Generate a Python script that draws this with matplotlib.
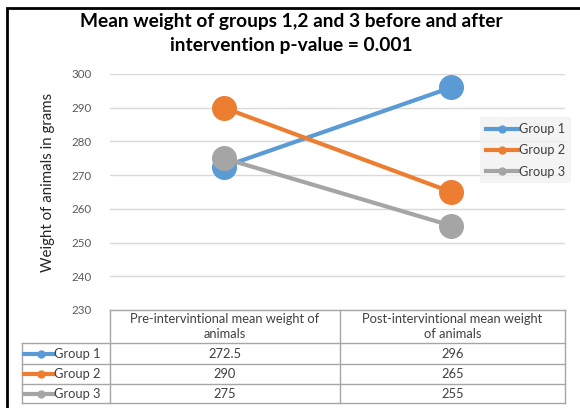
import matplotlib.pyplot as plt
from matplotlib.lines import Line2D

plt.rcParams['font.family'] = ['Lato', 'DejaVu Sans']

stages = ['Pre-intervintional mean weight of\nanimals',
          'Post-intervintional mean weight\nof animals']
groups = ['Group 1', 'Group 2', 'Group 3']
weights = [[272.5, 296], [290, 265], [275, 255]]
colors = ['#5b9bd5', '#ed7d31', '#a5a5a5']
yticks = [230, 240, 250, 260, 270, 280, 290, 300]

W, H = 580, 408
fig = plt.figure(figsize=(W / 100, H / 100), dpi=100)

def fx(px):
    return px / W

def fy(py):
    return 1 - py / H

# overlay axes in pixel units for frame, title and table
pix = fig.add_axes([0, 0, 1, 1])
pix.set_axis_off()
pix.set_xlim(0, W)
pix.set_ylim(H, 0)

# outer frame lines (left and top only)
pix.plot([7, 7, W], [H, 8, 8], color='black', lw=2, solid_joinstyle='miter')

pix.text(291, 21, 'Mean weight of groups 1,2 and 3 before and after',
         ha='center', va='center', fontsize=13.8, fontweight='bold')
pix.text(291, 46, 'intervention p-value = 0.001',
         ha='center', va='center', fontsize=13.8, fontweight='bold')

ax = fig.add_axes([fx(110), fy(310), fx(565) - fx(110), fy(74) - fy(310)])
xs = [0, 1]
for vals, c, name in zip(weights, colors, groups):
    ax.plot(xs, vals, color=c, lw=3, marker='o', markersize=17, clip_on=False,
            label=name, zorder=3)
ax.set_xlim(-0.5, 1.5)
ax.set_ylim(min(yticks), max(yticks))
ax.set_yticks(yticks)
ax.set_xticks([])
ax.grid(axis='y', color='#d9d9d9', lw=1)
ax.set_axisbelow(True)
ax.patch.set_alpha(0)
for s in ax.spines.values():
    s.set_visible(False)
ax.tick_params(axis='y', length=0, pad=13, labelsize=8.3, labelcolor='#595959')
pix.text(48, 182, 'Weight of animals in grams', rotation=90,
         ha='center', va='center', fontsize=10.8, color='#262626')

handles = [Line2D([], [], color=c, lw=3, marker='o', markersize=5) for c in colors]
leg = fig.legend(handles, groups, loc='upper left',
                 bbox_to_anchor=(fx(474), fy(111)), frameon=True, fontsize=9.2,
                 handlelength=2.5, handletextpad=0.1, labelspacing=0.72,
                 borderpad=0.45, fancybox=False)
leg.get_frame().set_facecolor('#f2f2f2')
leg.get_frame().set_edgecolor('none')
for t in leg.get_texts():
    t.set_color('#404040')

# data table under the chart
col_x = [22, 110, 340, 565]
row_y = [310, 343, 364, 384, 403]
grid_kw = dict(color='#a6a6a6', lw=1)
pix.plot([col_x[1], col_x[3]], [row_y[0], row_y[0]], **grid_kw)
for y in row_y[1:]:
    pix.plot([col_x[0], col_x[3]], [y, y], **grid_kw)
pix.plot([col_x[0], col_x[0]], [row_y[1], row_y[-1]], **grid_kw)
for x in col_x[1:]:
    pix.plot([x, x], [row_y[0], row_y[-1]], **grid_kw)

txt_kw = dict(ha='center', va='center', fontsize=9.3, color='#404040')
for j, label in enumerate(stages):
    pix.text((col_x[j + 1] + col_x[j + 2]) / 2, (row_y[0] + row_y[1]) / 2,
             label, linespacing=1.25, **txt_kw)
for i, (name, vals, c) in enumerate(zip(groups, weights, colors)):
    yc = (row_y[i + 1] + row_y[i + 2]) / 2
    pix.plot([24, 54], [yc, yc], color=c, lw=3)
    pix.plot([41], [yc], marker='o', color=c, markersize=5)
    pix.text(54, yc, name, ha='left', va='center', fontsize=9.3, color='#404040')
    for j, v in enumerate(vals):
        pix.text((col_x[j + 1] + col_x[j + 2]) / 2, yc, f'{v:g}', **txt_kw)

fig.savefig('out.png', dpi=100)
